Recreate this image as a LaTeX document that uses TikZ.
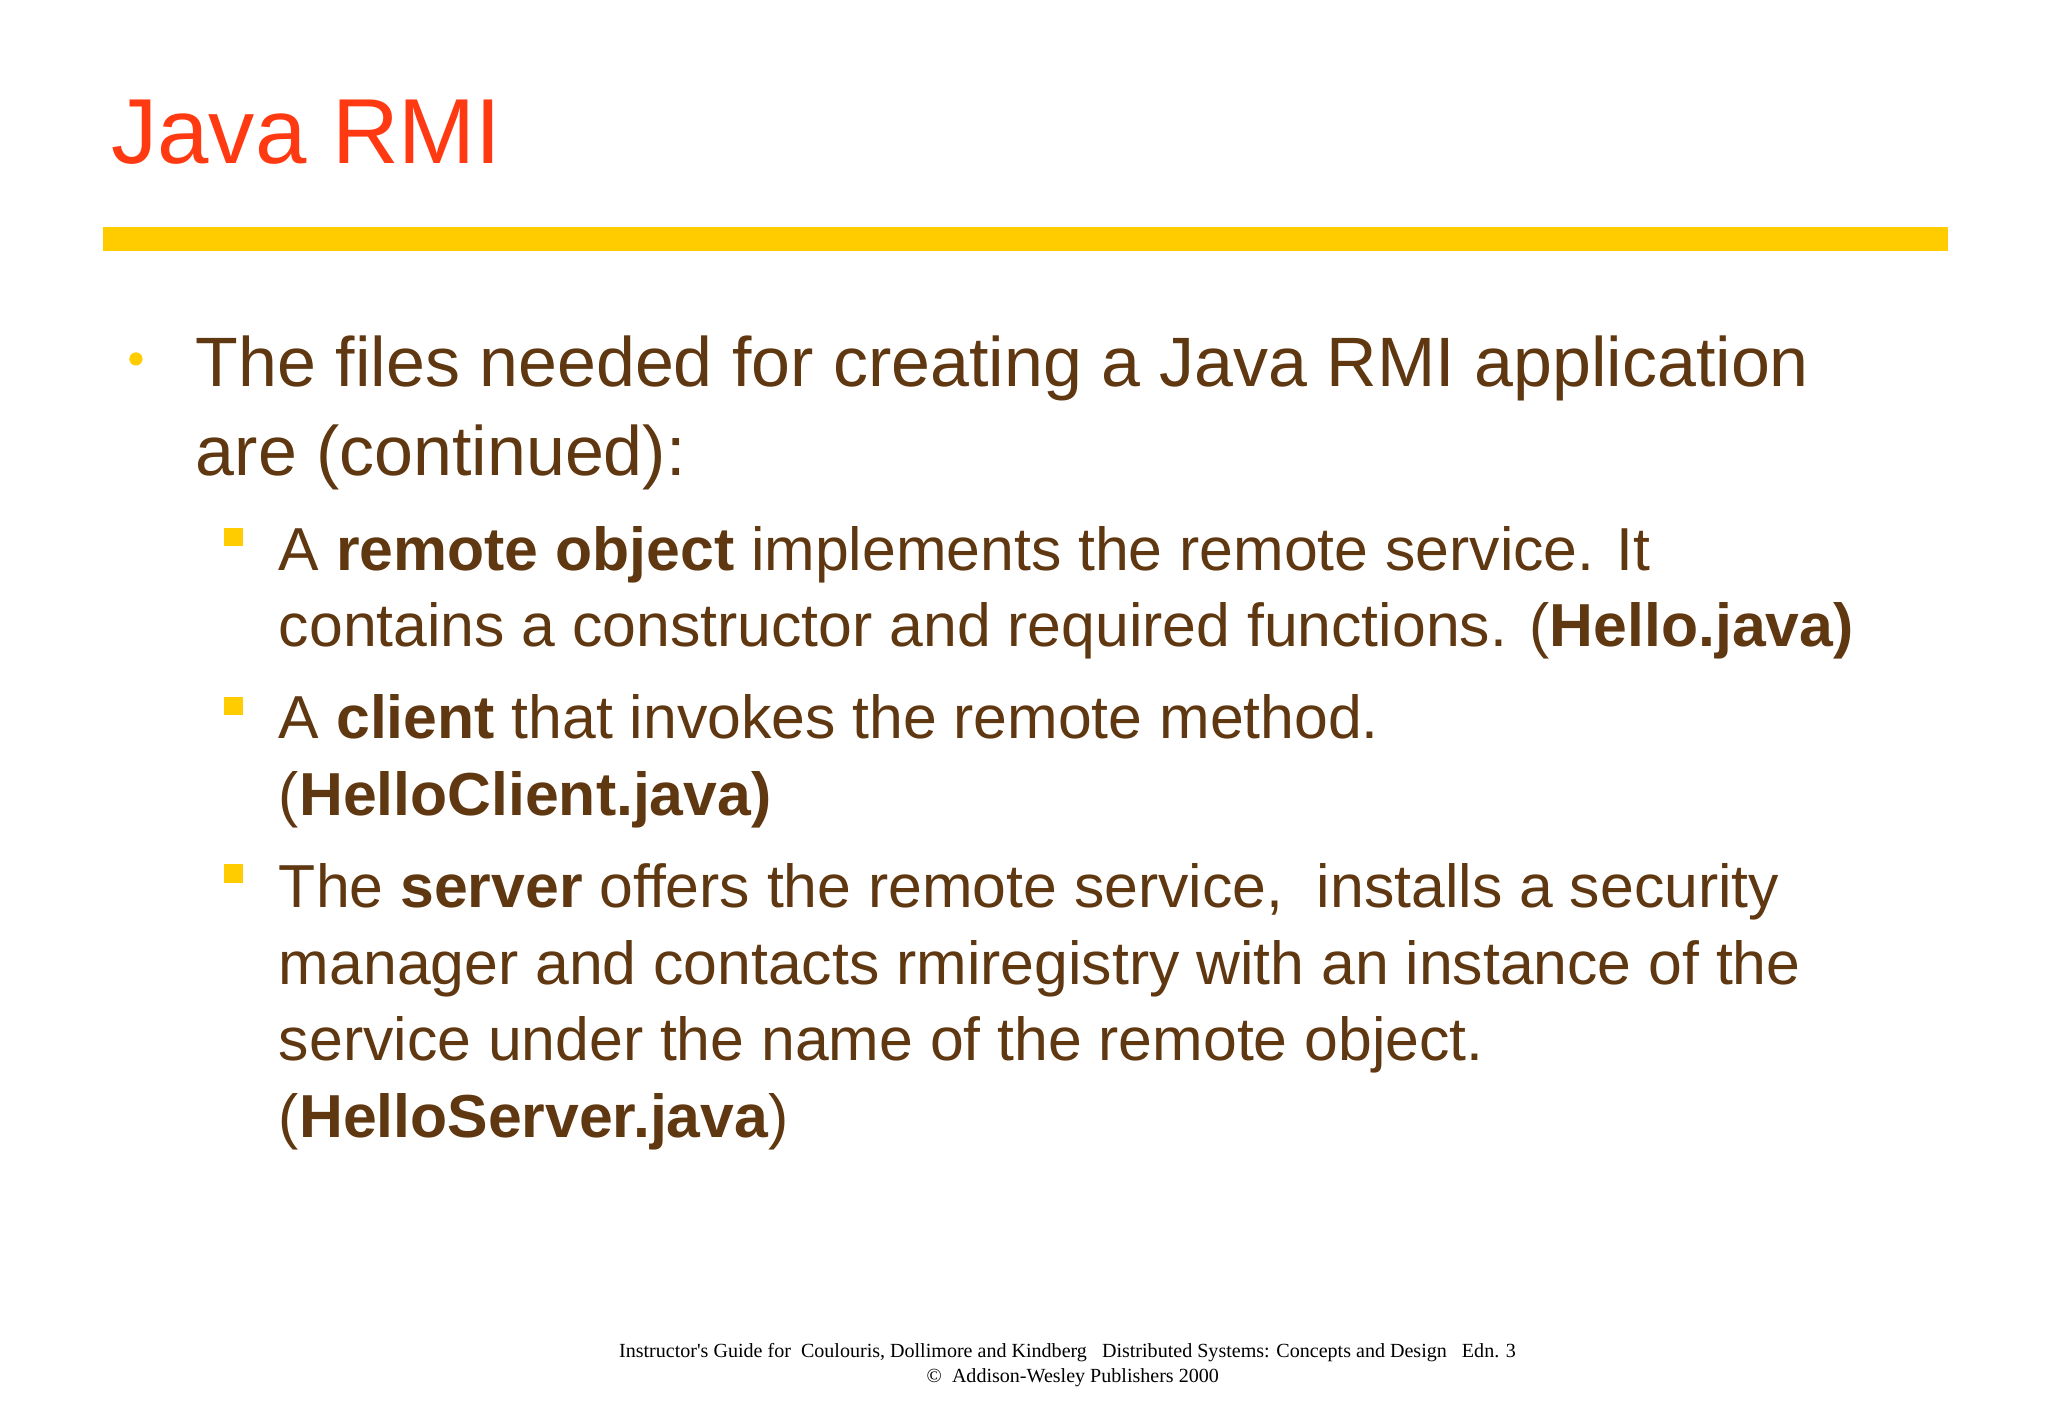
\documentclass[tikz,border=0pt]{standalone}
\usepackage{fontspec}
\setmainfont{Liberation Sans}
\newfontfamily\footfont{Liberation Serif}
\definecolor{brn}{HTML}{5F3710}
\definecolor{ttl}{HTML}{FF3A12}
\definecolor{ylw}{HTML}{FFCC00}
\begin{document}
\begin{tikzpicture}[x=0.5pt,y=-0.5pt,
  main/.style={anchor=base west,inner sep=0,text=brn,font=\fontsize{26.5}{30}\selectfont},
  sub/.style={anchor=base west,inner sep=0,text=brn,font=\fontsize{23}{26}\selectfont},
  foot/.style={anchor=base,inner sep=0,font=\footfont\fontsize{7.6}{9}\selectfont}]
\useasboundingbox (0,0) rectangle (1552,1075);
\fill[white] (0,0) rectangle (1552,1075);
\node[anchor=base west,inner sep=0,text=ttl,font=\fontsize{35}{40}\selectfont] (title) at (84,124) {Java RMI};
\fill[ylw] (78,172) rectangle (1476,190);
\fill[ylw] (103,272) circle (5);
\node[main] (m1) at (148,293) {The files needed for creating a Java RMI application};
\node[main] (m2) at (148,360) {are (continued):};
\foreach \y in {407,535,662} \fill[ylw] (170,\y-7) rectangle (184,\y+7);
\node[sub] (a1) at (211,432) {A \textbf{remote object} implements the remote service. It};
\node[sub] (a2) at (211,490) {contains a constructor and required functions. (\textbf{Hello.java)}};
\node[sub] (b1) at (211,560) {A \textbf{client} that invokes the remote method.};
\node[sub] (b2) at (211,618) {(\textbf{HelloClient.java)}};
\node[sub] (c1) at (211,688) {The \textbf{server} offers the remote service,\ \ installs a security};
\node[sub] (c2) at (211,746) {manager and contacts rmiregistry with an instance of the};
\node[sub] (c3) at (211,804) {service under the name of the remote object.};
\node[sub] (c4) at (211,862) {(\textbf{HelloServer.java})};
\node[foot] (f1) at (809,1029) {Instructor's Guide for\ \ Coulouris, Dollimore and Kindberg\ \ \ Distributed Systems: Concepts and Design\ \ \ Edn. 3};
\node[foot] (f2) at (813,1048) {©\ \ Addison-Wesley Publishers 2000};
\end{tikzpicture}
\end{document}
